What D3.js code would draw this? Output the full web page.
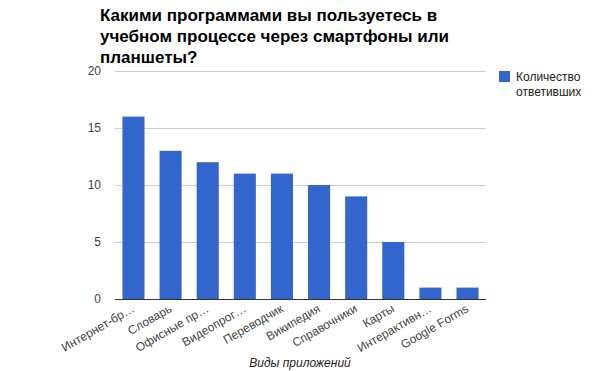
<!DOCTYPE html>
<html>
<head>
<meta charset="utf-8">
<script src="https://cdn.jsdelivr.net/npm/d3@7"></script>
<style>
  body { margin: 0; background: #fff; }
  svg { font-family: Arial, "Liberation Sans", sans-serif; }
</style>
</head>
<body>
<svg id="chart"></svg>
<script>
var categories = ["Интернет-бр…", "Словарь", "Офисные пр…", "Видеопрог…", "Переводчик",
                  "Википедия", "Справочники", "Карты", "Интерактивн…", "Google Forms"];
var values = [16, 13, 12, 11, 11, 10, 9, 5, 1, 1];
var yTicks = [0, 5, 10, 15, 20];
var titleLines = ["Какими программами вы пользуетесь в",
                  "учебном процессе через смартфоны или",
                  "планшеты?"];
var seriesName = ["Количество", "ответивших"];
var axisTitle = "Виды приложений";

var width = 600, height = 371;
var plotLeft = 115, plotRight = 486, plotTop = 71, plotBottom = 299;

var svg = d3.select("#chart")
    .attr("width", width)
    .attr("height", height);

var x = d3.scaleBand()
    .domain(categories)
    .range([plotLeft, plotRight])
    .paddingInner(0.405)
    .paddingOuter(0.2);

var y = d3.scaleLinear()
    .domain([0, 20])
    .range([plotBottom, plotTop]);

// gridlines
svg.append("g")
    .selectAll("line")
    .data(yTicks.filter(function(d) { return d > 0; }))
    .join("line")
    .attr("x1", plotLeft)
    .attr("x2", plotRight)
    .attr("y1", function(d) { return y(d) + 0.5; })
    .attr("y2", function(d) { return y(d) + 0.5; })
    .attr("stroke", "#cccccc")
    .attr("stroke-width", 1);

// y tick labels
svg.append("g")
    .selectAll("text")
    .data(yTicks)
    .join("text")
    .attr("x", plotLeft - 14)
    .attr("y", function(d) { return y(d) + 4; })
    .attr("text-anchor", "end")
    .attr("font-size", 12)
    .attr("fill", "#444")
    .text(function(d) { return d; });

// bars
svg.append("g")
    .selectAll("rect")
    .data(values)
    .join("rect")
    .attr("x", function(d, i) { return x(categories[i]); })
    .attr("y", function(d) { return y(d); })
    .attr("width", x.bandwidth())
    .attr("height", function(d) { return plotBottom - y(d); })
    .attr("fill", "#3366cc");

// baseline
svg.append("line")
    .attr("x1", plotLeft)
    .attr("x2", plotRight)
    .attr("y1", plotBottom + 0.5)
    .attr("y2", plotBottom + 0.5)
    .attr("stroke", "#333")
    .attr("stroke-width", 1);

// x labels, rotated
svg.append("g")
    .selectAll("text")
    .data(categories)
    .join("text")
    .attr("transform", function(d) {
        var cx = x(d) + x.bandwidth() / 2 + 2;
        return "translate(" + cx + "," + (plotBottom + 12) + ") rotate(-30)";
    })
    .attr("text-anchor", "end")
    .attr("font-size", 12)
    .attr("fill", "#444")
    .text(function(d) { return d; });

// axis title
svg.append("text")
    .attr("x", 300)
    .attr("y", 367)
    .attr("text-anchor", "middle")
    .attr("font-size", 12)
    .attr("font-style", "italic")
    .attr("fill", "#222")
    .text(axisTitle);

// title
svg.append("g")
    .selectAll("text")
    .data(titleLines)
    .join("text")
    .attr("x", plotLeft - 15)
    .attr("y", function(d, i) { return 21 + i * 21; })
    .attr("font-size", 17)
    .attr("font-weight", "bold")
    .attr("fill", "#000")
    .text(function(d) { return d; });

// legend
svg.append("rect")
    .attr("x", 499)
    .attr("y", 71)
    .attr("width", 11)
    .attr("height", 11)
    .attr("fill", "#3366cc");

svg.append("g")
    .selectAll("text")
    .data(seriesName)
    .join("text")
    .attr("x", 516)
    .attr("y", function(d, i) { return 81 + i * 15; })
    .attr("font-size", 12)
    .attr("fill", "#222")
    .text(function(d) { return d; });
</script>
</body>
</html>
